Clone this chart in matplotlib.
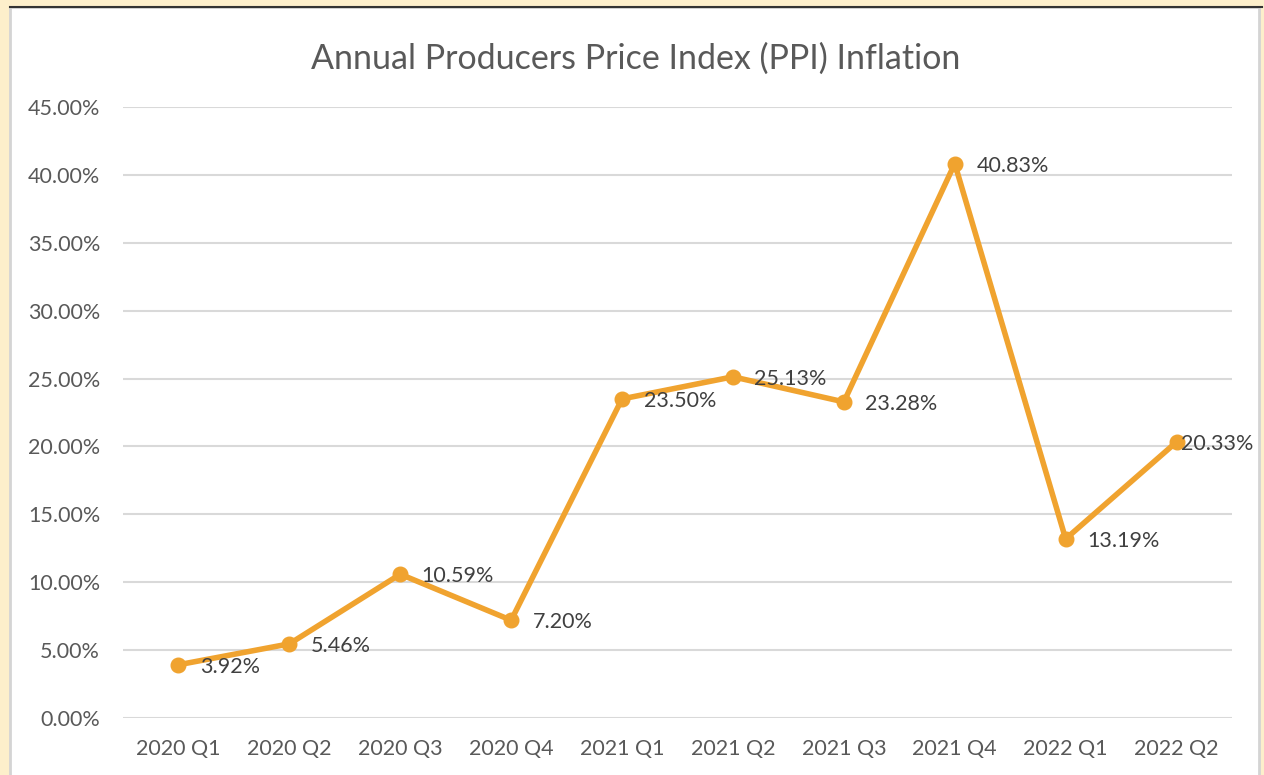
import matplotlib
matplotlib.use("Agg")
import matplotlib.pyplot as plt
from matplotlib.patches import Rectangle
from matplotlib.lines import Line2D
from matplotlib.ticker import FuncFormatter, MultipleLocator

categories = ["2020 Q1", "2020 Q2", "2020 Q3", "2020 Q4", "2021 Q1",
              "2021 Q2", "2021 Q3", "2021 Q4", "2022 Q1", "2022 Q2"]
ppi = [3.92, 5.46, 10.59, 7.20, 23.50, 25.13, 23.28, 40.83, 13.19, 20.33]
title = "Annual Producers Price Index (PPI) Inflation"

plt.rcParams['font.family'] = ['Lato', 'DejaVu Sans']

W, H = 1264, 775
fig = plt.figure(figsize=(W / 100, H / 100), dpi=100)
fig.patch.set_facecolor("#FDEFCB")

# white chart area with border
fig.patches.append(Rectangle((10 / W, -0.05), (1259 - 10) / W, (H - 7) / H + 0.05,
                             transform=fig.transFigure, facecolor="white",
                             edgecolor="#D4D4D4", linewidth=2, zorder=-2))
fig.lines.append(Line2D([10 / W, 1262 / W], [(H - 7) / H, (H - 7) / H],
                        transform=fig.transFigure, color="#333333", linewidth=1.5,
                        zorder=-1))

ax = fig.add_axes([123 / W, (H - 718) / H, (1232 - 123) / W, (718 - 107) / H])
ax.set_facecolor("none")
x = list(range(len(categories)))
ax.plot(x, ppi, color="#F0A32F", linewidth=4, marker="o", markersize=10.5,
        solid_joinstyle="round", zorder=3)

ax.set_xlim(-0.5, len(categories) - 0.5)
ax.set_ylim(0, 45)
ax.yaxis.set_major_locator(MultipleLocator(5))
ax.yaxis.set_major_formatter(FuncFormatter(lambda v, p: f"{v:.2f}%"))
ax.set_xticks(x)
ax.set_xticklabels(categories)
ax.grid(axis="y", color="#D9D9D9", linewidth=1.5)
ax.set_axisbelow(True)
for s in ax.spines.values():
    s.set_visible(False)
ax.tick_params(length=0, labelsize=15.5, labelcolor="#595959")
ax.tick_params(axis="x", pad=15)
ax.tick_params(axis="y", pad=16.5)

for i, v in enumerate(ppi):
    dx = 15.5 if i < len(ppi) - 1 else 3.5
    ax.annotate(f"{v:.2f}%", (i, v), xytext=(dx, -1.5), textcoords="offset points",
                ha="left", va="center", fontsize=15.5, color="#404040", zorder=4)

fig.text(636 / W, (H - 59) / H, title, ha="center", va="center",
         fontsize=24.5, color="#595959")

fig.savefig("out.png", dpi=100, facecolor=fig.get_facecolor())
